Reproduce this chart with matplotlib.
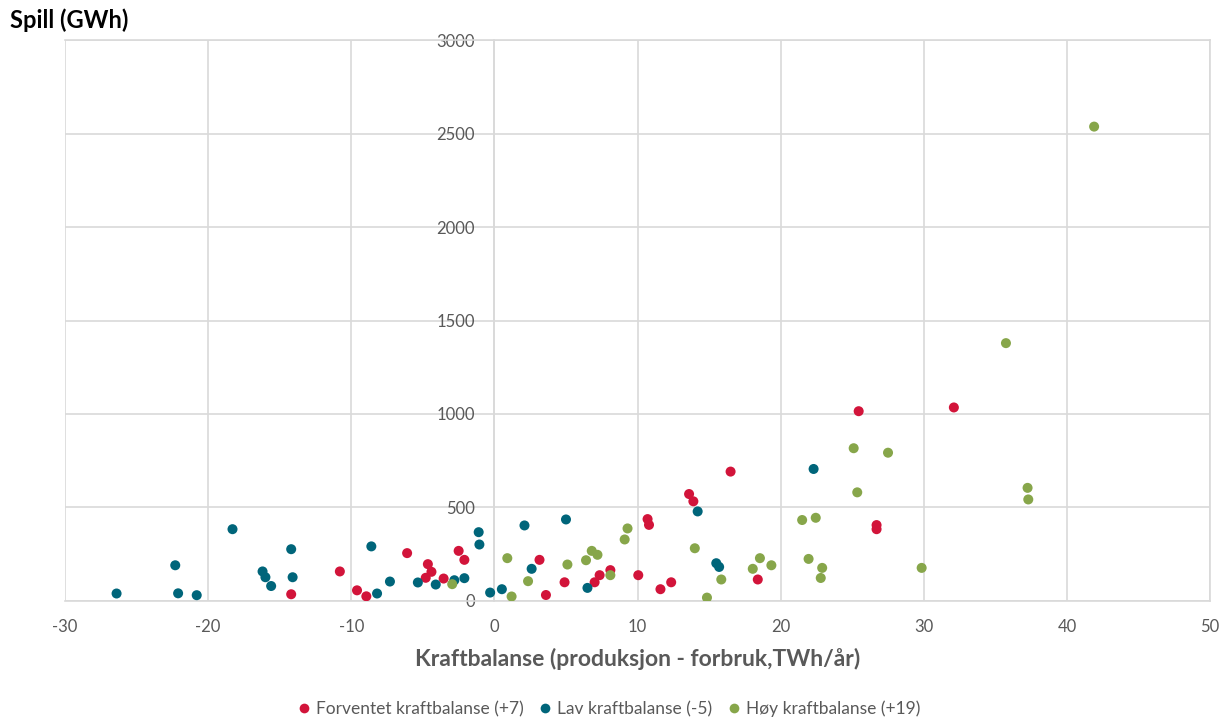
import matplotlib.pyplot as plt
from matplotlib.lines import Line2D

plt.rcParams['font.family'] = ['Lato', 'DejaVu Sans']
plt.rcParams['axes.unicode_minus'] = False

# Forventet kraftbalanse (+7)
red_x = [-14.2, -10.8, -9.6, -8.95, -6.1, -4.65, -4.4, -4.8, -3.55, -2.5, -2.1,
         3.15, 3.6, 4.9, 7.0, 7.35, 8.1, 10.05, 10.7, 10.8, 11.6, 12.35, 13.6,
         13.9, 16.5, 18.4, 25.45, 26.7, 26.7, 32.1]
red_y = [36, 158, 57, 25, 256, 197, 156, 124, 120, 268, 220,
         220, 32, 100, 100, 138, 165, 138, 438, 407, 63, 100, 572,
         533, 692, 115, 1015, 406, 384, 1035]

# Lav kraftbalanse (-5)
teal_x = [-26.4, -22.3, -22.1, -20.8, -18.3, -16.2, -16.0, -15.6, -14.2, -14.1,
          -8.6, -8.2, -7.3, -5.35, -4.1, -2.8, -2.1, -1.1, -1.05, -0.3,
          0.52, 2.1, 2.6, 5.0, 6.5, 14.2, 15.5, 15.7, 22.3]
teal_y = [40, 191, 41, 31, 384, 158, 127, 80, 277, 127,
          292, 40, 104, 99, 88, 111, 122, 368, 302, 45,
          63, 404, 172, 436, 70, 479, 202, 182, 706]

# Høy kraftbalanse (+19)
green_x = [-2.95, 0.9, 1.2, 2.35, 5.1, 6.4, 6.8, 7.2, 8.1, 9.1, 9.3, 14.0,
           14.85, 15.85, 18.05, 18.55, 19.35, 21.5, 21.95, 22.45, 22.9, 22.8,
           25.1, 25.35, 27.5, 29.85, 35.74, 37.25, 37.3, 41.9]
green_y = [90, 229, 24, 106, 195, 218, 268, 247, 138, 329, 388, 282,
           18, 115, 172, 229, 191, 433, 225, 445, 177, 123,
           817, 581, 793, 177, 1379, 605, 543, 2537]

labels = ['Forventet kraftbalanse (+7)', 'Lav kraftbalanse (-5)', 'Høy kraftbalanse (+19)']
colors = ['#D2143A', '#00657A', '#87A64A']

fig = plt.figure(figsize=(12.25, 7.2), dpi=100)
ax = fig.add_axes([0.0531, 0.1653, 0.9347, 0.7791])

for xs, ys, c in zip([red_x, teal_x, green_x], [red_y, teal_y, green_y], colors):
    ax.scatter(xs, ys, s=52, color=c, edgecolors='none', zorder=3)

ax.set_xlim(-30, 50)
ax.set_ylim(0, 3000)
ax.set_xticks(range(-30, 51, 10))
ax.set_yticks(range(0, 3001, 500))
ax.grid(True, color='#d9d9d9', linewidth=1.2, zorder=0)
for s in ax.spines.values():
    s.set_color('#d9d9d9')
    s.set_linewidth(1.2)
ax.spines['left'].set_position(('data', 0))
ax.tick_params(axis='both', length=0, labelsize=12, labelcolor='#595959')
ax.tick_params(axis='x', pad=13)
ax.tick_params(axis='y', pad=14)

ax.set_xlabel('Kraftbalanse (produksjon - forbruk,TWh/år)', fontsize=16.5,
              fontweight='bold', color='#595959', labelpad=9)
fig.text(0.008, 0.972, 'Spill (GWh)', fontsize=17, fontweight='bold',
         color='black', ha='left', va='center')

handles = [Line2D([], [], marker='o', linestyle='none', markersize=7,
                  markerfacecolor=c, markeredgecolor='none') for c in colors]
fig.legend(handles, labels, loc='center', bbox_to_anchor=(0.497, 0.015),
           ncol=3, frameon=False, fontsize=12.5, labelcolor='#595959',
           handlelength=0.8, handletextpad=0.3, columnspacing=0.85)

fig.savefig('out.png', dpi=100)
